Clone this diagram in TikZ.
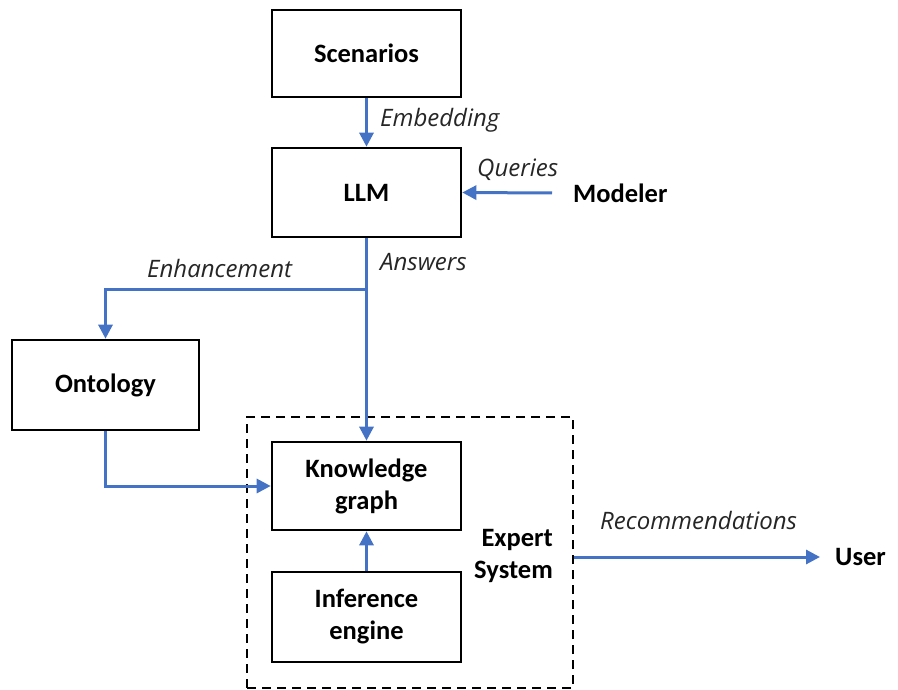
\documentclass[tikz,border=0pt]{standalone}
\usepackage{fontspec}
\setmainfont{Carlito}
\newfontfamily\lblfont{Open Sans}
\usetikzlibrary{arrows.meta}
\definecolor{arrblue}{HTML}{4472C4}
\tikzset{
  box/.style={draw=black, line width=2.6pt, fill=white, minimum width=189pt, font=\fontsize{26.5}{32}\selectfont\bfseries, align=center, inner sep=2pt},
  esbox/.style={draw=black, line width=2.3pt, dash pattern=on 9pt off 6pt},
  arr/.style={draw=arrblue, line width=3pt, -{Triangle[length=14pt,width=14pt]}},
  lbl/.style={font=\lblfont\itshape\fontsize{24}{28}\selectfont, text=black!85, anchor=west, inner sep=0pt},
  ext/.style={font=\fontsize{26.5}{32}\selectfont\bfseries, inner sep=3pt}
}
\begin{document}
\begin{tikzpicture}[x=1pt,y=-1pt]
\useasboundingbox (0,0) rectangle (898,690);
\node[box, minimum height=87pt] (scen) at (366.5,53.5) {Scenarios};
\node[box, minimum height=89pt] (llm) at (366.5,192.5) {LLM};
\node[box, minimum width=187pt, minimum height=90pt] (ont) at (105.5,385) {Ontology};
\node[esbox, minimum width=326pt, minimum height=271pt, inner sep=0pt] (es) at (410,552.5) {};
\node[box, minimum height=88pt] (kg) at (366.5,486) {Knowledge\\graph};
\node[box, minimum height=90pt] (inf) at (366.5,617) {Inference\\engine};
\node[ext, align=right, anchor=east] (estext) at (556,556) {Expert\\System};
\node[ext, anchor=west] (modeler) at (570,193) {Modeler};
\node[ext, anchor=west] (user) at (832,557) {User};
\coordinate (j) at (366.5,289);
\draw[arr] (scen.south) -- (llm.north);
\draw[arr] ([xshift=-18pt]modeler.west) -- (llm.east);
\draw[arr] (llm.south) -- (kg.north);
\draw[arr] (j) -| (ont.north);
\draw[arr] (ont.south) |- (kg.west);
\draw[arr] (inf.north) -- (kg.south);
\draw[arr] (es.east |- user.west) -- ([xshift=-12pt]user.west);
\node[lbl] (emb) at (380,120) {Embedding};
\node[lbl] (que) at (477,170) {Queries};
\node[lbl] (ans) at (380,262) {Answers};
\node[lbl] (enh) at (147,268) {Enhancement};
\node[lbl] (rec) at (600,520) {Recommendations};
\end{tikzpicture}
\end{document}
